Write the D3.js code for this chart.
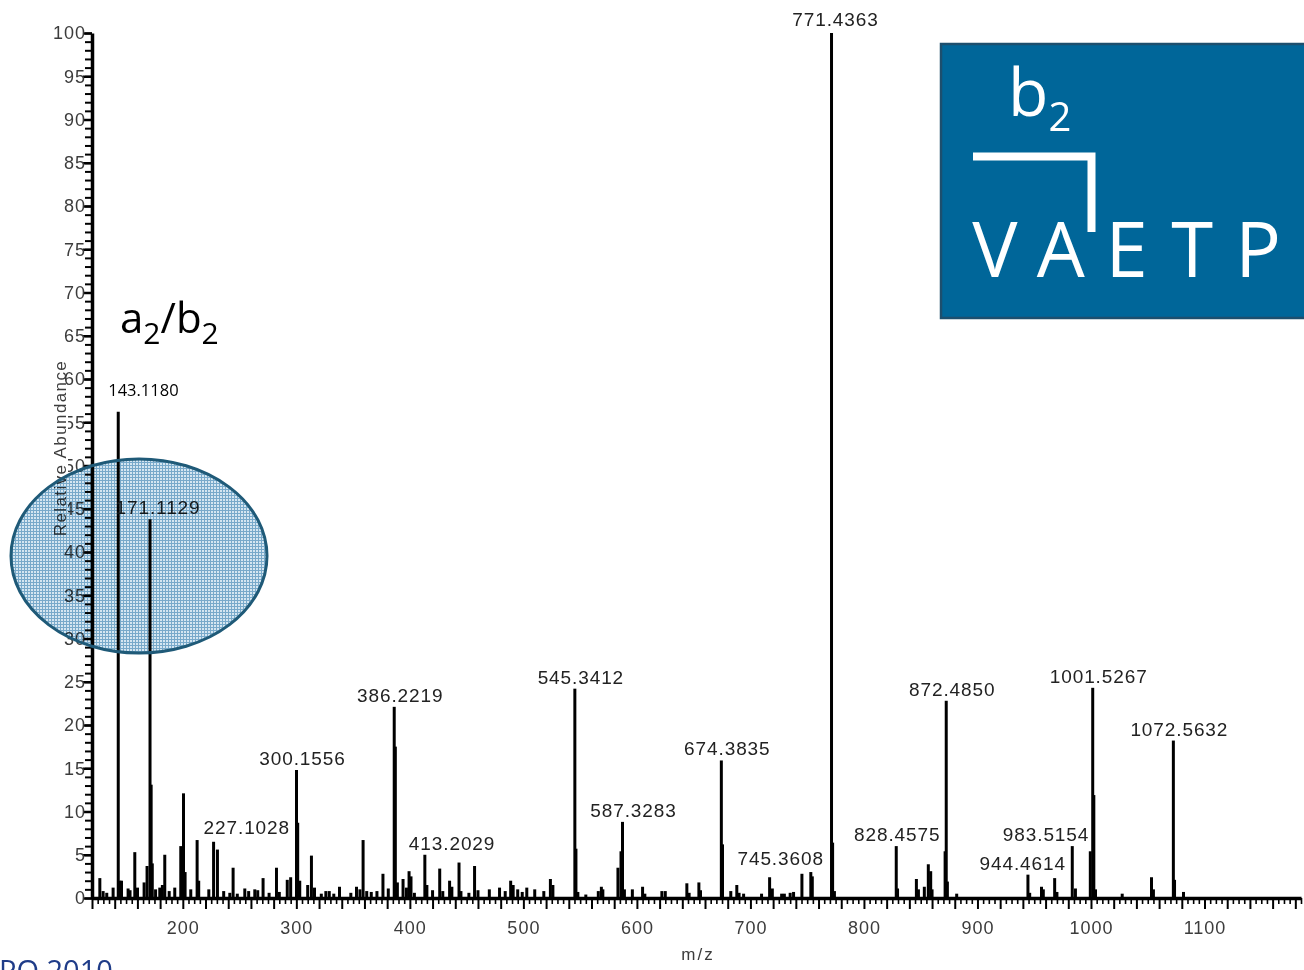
<!DOCTYPE html>
<html>
<head>
<meta charset="utf-8">
<script src="https://cdn.jsdelivr.net/npm/d3@7"></script>
<style>
  body { margin: 0; background: #fff; }
  .axis text { font-family: "Liberation Sans", Arial, sans-serif; font-size: 18px; fill: #3c3c3c; letter-spacing: 1px; }
  .axis path, .axis line { stroke: #000; }
  .peak-label { font-family: "Liberation Sans", Arial, sans-serif; font-size: 19px; fill: #222; letter-spacing: 0.9px; }
  .note { font-family: "Open Sans", "Noto Sans", sans-serif; fill: #000; }
</style>
</head>
<body>
<div id="chart-container"></div>
<script>
// MS/MS spectrum, stick plot
const svgWidth = 1304;
const svgHeight = 970;

// labelled peaks (m/z, relative abundance)
const labeledMz = [143.1180, 171.1129, 227.1028, 300.1556, 386.2219, 413.2029, 545.3412, 587.3283,
  674.3835, 745.3608, 771.4363, 828.4575, 872.4850, 944.4614, 983.5154, 1001.5267, 1072.5632];
const labeledInt = [56.2, 43.8, 6.5, 14.8, 22.1, 5.0, 24.2, 8.8,
  15.9, 2.8, 100, 6.0, 22.8, 2.7, 6.0, 24.3, 18.2];

// unlabelled peaks
const minorMz = [126.9, 129.8, 133, 138.6, 144.6, 146, 151.8, 153.5, 157.7, 160.1, 165.9, 168.5, 172.1, 173.1,
  176, 179.7, 182, 184.1, 188, 192.9, 198.2, 200.6, 202, 207, 212.6, 214, 222.9, 230.5, 236, 241.4, 244.3,
  248, 254.6, 258, 263.4, 266, 270.7, 276, 282.5, 285, 292, 295, 301.2, 303, 310, 313.3, 316, 322, 326,
  329, 333, 338, 348, 353, 356, 358.8, 362, 366, 371, 376.3, 381, 387.2, 389, 394, 397, 399.3, 401, 404,
  415, 420, 426.3, 429, 435, 437, 443.3, 445, 452, 457, 460, 470, 479, 484, 488.8, 491, 495, 499, 503,
  510, 518, 523.8, 526, 546.3, 548, 555, 566, 568.7, 570, 583.3, 586, 589, 596, 605, 607, 622, 625,
  644, 646, 654.6, 656, 675.4, 682.7, 688, 690, 694, 709.8, 716.9, 719.3, 727.5, 729.9, 735, 738, 753.2,
  754.5, 772.4, 774, 829.6, 846.2, 848, 853.2, 856.7, 858.8, 860, 871.5, 873.5, 881.7, 946, 956.4, 958,
  968, 970, 986.3, 999.4, 1002.5, 1004, 1027.5, 1053.3, 1055, 1073.6, 1081.5];
const minorInt = [2.3, 0.8, 0.6, 1.2, 2.0, 2.0, 1.1, 0.9, 5.3, 1.2, 1.8, 3.7, 13.1, 4.0,
  1.0, 1.2, 1.5, 5.0, 0.8, 1.2, 6.0, 12.1, 3.0, 1.0, 6.7, 2.0, 1.0, 5.6, 0.8, 0.6, 3.5,
  0.5, 1.1, 0.8, 1.0, 0.9, 2.3, 0.6, 3.5, 0.7, 2.1, 2.4, 8.7, 2.0, 1.5, 4.9, 1.2, 0.5, 0.8,
  0.8, 0.5, 1.3, 0.6, 1.3, 1.0, 6.7, 0.8, 0.7, 0.8, 2.8, 1.1, 17.5, 1.8, 2.2, 1.2, 3.1, 2.5, 0.6,
  1.5, 0.9, 3.4, 0.8, 2.0, 1.3, 4.1, 0.8, 0.6, 3.7, 0.9, 1.0, 1.2, 0.8, 2.0, 1.5, 1.0, 0.7, 1.2,
  1.0, 0.8, 2.2, 1.5, 5.7, 0.7, 0.4, 0.8, 1.3, 1.0, 3.5, 5.4, 1.0, 1.0, 1.3, 0.5, 0.8, 0.8,
  1.7, 0.6, 1.8, 0.9, 6.2, 0.8, 1.5, 0.6, 0.5, 0.5, 2.4, 1.1, 0.5, 0.5, 0.6, 0.7, 3.0,
  2.5, 6.4, 0.8, 1.1, 2.2, 1.0, 1.3, 3.9, 3.1, 1.0, 5.4, 1.9, 0.5, 0.6, 1.3, 1.0,
  2.3, 0.7, 1.1, 5.4, 11.9, 1.0, 0.5, 2.4, 1.0, 2.1, 0.7];

// tick labels
const xTickLabels = [200, 300, 400, 500, 600, 700, 800, 900, 1000, 1100];
const yTickLabels = d3.range(0, 101, 5);

// fragment annotation
const sequence = ["V", "A", "E", "T", "P"];

// how each peak label sits relative to its peak top
const labelLayout = {
  "143.1180": { anchor: "start", dx: -10, dy: -11, note: true },
  "171.1129": { dx: 8 },
  "227.1028": { anchor: "start", dx: -10, dy: -3 },
  "413.2029": { anchor: "start", dx: -16 },
  "587.3283": { dx: 11 },
  "745.3608": { anchor: "end", dx: 22, dy: -4 },
  "771.4363": { dx: 4, dy: -2 },
  "828.4575": { dx: 1 },
  "944.4614": { anchor: "end", dx: 38 },
  "983.5154": { anchor: "end", dx: 17 }
};

const svg = d3.select("#chart-container")
  .append("svg")
  .attr("width", svgWidth)
  .attr("height", svgHeight);

const x = d3.scaleLinear().domain([120, 1185]).range([92, 1301]);
const y = d3.scaleLinear().domain([0, 100]).range([898, 33]);
const x0 = x.range()[0], y0 = y(0);

// grid pattern for the highlight circle
const defs = svg.append("defs");
const pat = defs.append("pattern")
  .attr("id", "grid").attr("width", 3).attr("height", 3)
  .attr("patternUnits", "userSpaceOnUse");
pat.append("rect").attr("width", 3).attr("height", 3).attr("fill", "#d5e6f1");
pat.append("path").attr("d", "M0,0.5H3M0.5,0V3").attr("stroke", "#78a9ca").attr("stroke-width", 1);

// y axis: minor then major
svg.append("g").attr("class", "axis")
  .attr("transform", `translate(${x0},0)`)
  .call(d3.axisLeft(y).tickValues(d3.range(0, 101, 1)).tickSize(7).tickFormat(""))
  .call(g => g.selectAll("line").attr("stroke-width", 2))
  .call(g => g.select(".domain").remove());
svg.append("g").attr("class", "axis")
  .attr("transform", `translate(${x0},0)`)
  .call(d3.axisLeft(y).tickValues(yTickLabels).tickSize(9).tickPadding(-3).tickSizeOuter(0))
  .call(g => g.selectAll("line").attr("stroke-width", 2.5))
  .call(g => g.select(".domain").attr("stroke-width", 3.5));

// x axis
const xMinor = d3.range(120, 1186, 5).filter(v => v % 20 !== 0);
svg.append("g").attr("class", "axis")
  .attr("transform", `translate(0,${y0})`)
  .call(d3.axisBottom(x).tickValues(xMinor).tickSize(6).tickFormat(""))
  .call(g => g.selectAll("line").attr("stroke-width", 1.6))
  .call(g => g.select(".domain").remove());
svg.append("g").attr("class", "axis")
  .attr("transform", `translate(0,${y0})`)
  .call(d3.axisBottom(x).tickValues(d3.range(120, 1186, 20)).tickSize(11).tickFormat(""))
  .call(g => g.selectAll("line").attr("stroke-width", 2))
  .call(g => g.select(".domain").remove());
svg.append("g").attr("class", "axis")
  .attr("transform", `translate(0,${y0})`)
  .call(d3.axisBottom(x).tickValues(xTickLabels).tickFormat(d3.format("d"))
    .tickSize(0).tickPadding(23).tickSizeOuter(0))
  .call(g => g.select(".domain").attr("stroke-width", 3.5));

svg.append("text")
  .attr("x", 698).attr("y", 960)
  .attr("text-anchor", "middle")
  .style("font-family", "Liberation Sans, Arial, sans-serif")
  .style("font-size", "17px").style("letter-spacing", "2px").style("fill", "#3c3c3c")
  .text("m/z");

// white patch behind the y title hides part of the tick labels, as in the source
svg.append("rect").attr("x", 47).attr("y", 386).attr("width", 21).attr("height", 156).attr("fill", "#fff");
svg.append("text")
  .attr("transform", "translate(66,448) rotate(-90)")
  .attr("text-anchor", "middle")
  .style("font-family", "Liberation Sans, Arial, sans-serif")
  .style("font-size", "17px").style("letter-spacing", "1.4px").style("fill", "#3c3c3c")
  .text("Relative Abundance");

// peaks
const peaks = minorMz.map((m, i) => ({ mz: m, int: minorInt[i] }))
  .concat(labeledMz.map((m, i) => ({ mz: m, int: labeledInt[i] })));
svg.append("g")
  .selectAll("line")
  .data(peaks)
  .join("line")
  .attr("x1", d => x(d.mz)).attr("x2", d => x(d.mz))
  .attr("y1", y0).attr("y2", d => y(d.int))
  .attr("stroke", "#000")
  .attr("stroke-width", 3);

// peak labels
const labels = labeledMz.map((m, i) => {
  const txt = m.toFixed(4);
  const lay = Object.assign({ anchor: "middle", dx: 6, dy: 0, note: false }, labelLayout[txt] || {});
  return { mz: m, int: labeledInt[i], txt, lay };
});
svg.append("g")
  .selectAll("text")
  .data(labels)
  .join("text")
  .attr("class", d => d.lay.note ? "note" : "peak-label")
  .style("font-size", d => d.lay.note ? "16.5px" : null)
  .attr("text-anchor", d => d.lay.anchor)
  .attr("x", d => x(d.mz) + d.lay.dx)
  .attr("y", d => y(d.int) - 5 + d.lay.dy)
  .text(d => d.txt);

// highlight circle over the a2/b2 region (multiplied so the marks show through)
svg.append("ellipse")
  .attr("cx", 139).attr("cy", 556).attr("rx", 128).attr("ry", 97)
  .attr("fill", "url(#grid)")
  .style("mix-blend-mode", "multiply");
svg.append("ellipse")
  .attr("cx", 139).attr("cy", 556).attr("rx", 128).attr("ry", 97)
  .attr("fill", "none")
  .attr("stroke", "#1f5a78").attr("stroke-width", 3);

// a2/b2 note
const ab = svg.append("text").attr("class", "note")
  .attr("x", 120).attr("y", 333).style("font-size", "42px");
ab.append("tspan").text("a");
ab.append("tspan").attr("dy", 11).style("font-size", "30px").text("2");
ab.append("tspan").attr("dy", -11).text("/b");
ab.append("tspan").attr("dy", 11).style("font-size", "30px").text("2");

// fragment box
svg.append("rect")
  .attr("x", 941).attr("y", 44).attr("width", 380).attr("height", 274)
  .attr("fill", "#006699").attr("stroke", "#1d4f6e").attr("stroke-width", 2.5);
const b2 = svg.append("text").attr("class", "note")
  .attr("x", 1008).attr("y", 116).style("font-size", "66px").style("fill", "#fff");
b2.append("tspan").text("b");
b2.append("tspan").attr("dy", 15).style("font-size", "40px").text("2");
svg.append("path")
  .attr("d", "M973,156.5H1091.5V232")
  .attr("fill", "none").attr("stroke", "#fff").attr("stroke-width", 8);
const seqX = d3.scalePoint().domain(d3.range(sequence.length)).range([995, 1258]);
svg.append("g")
  .selectAll("text")
  .data(sequence)
  .join("text")
  .attr("class", "note")
  .attr("x", (d, i) => seqX(i)).attr("y", 277)
  .attr("text-anchor", "middle")
  .style("font-size", "76px").style("fill", "#fff")
  .text(d => d);

// source note, cut by the page edge as in the original slide
svg.append("text").attr("class", "note")
  .attr("x", -1).attr("y", 981)
  .style("font-size", "29px").style("fill", "#1f3c88")
  .text("PO 2010");
</script>
</body>
</html>
